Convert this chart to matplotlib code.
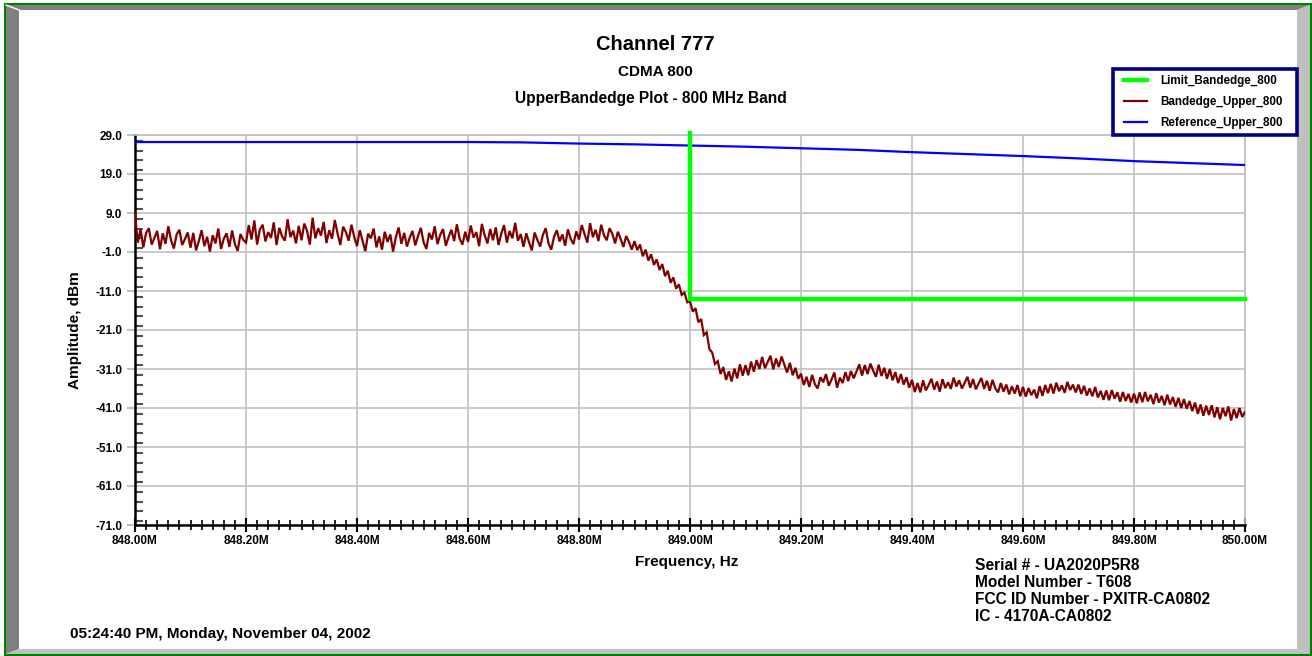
import numpy as np
import matplotlib
matplotlib.use("Agg")
from matplotlib import pyplot as plt
from matplotlib.patches import Polygon, Rectangle
from matplotlib.ticker import FixedLocator, MultipleLocator

FONT = ['Liberation Sans', 'Arial', 'DejaVu Sans']
W, H = 1312, 656

# Sweep 848.00 - 850.00 MHz, one reading every 0.005 MHz
sweep_start, sweep_stop, sweep_points = 848.0, 850.0, 401

# Bandedge_Upper_800 trace, dBm (one row = 0.1 MHz)
bandedge_upper = [
    8.9, 1.4, 4.8, 0.2, 3.9, 5.1, 0.9, 2.6, 4.4, -0.3, 3.8, 1.1, 5.6, 2.0, -0.1, 3.5, 4.7, 0.8, 2.3, 4.0,
    0.1, 3.9, -0.6, 1.8, 4.6, 0.5, 2.9, -0.9, 3.3, 1.2, 5.0, -0.2, 2.4, 3.8, 0.3, 4.5, 1.0, -0.7, 3.6, 2.1,
    1.4, 5.9, 2.2, 7.1, 0.9, 4.8, 6.0, 1.7, 4.1, 2.6, 6.6, 0.8, 5.2, 3.0, 1.9, 7.4, 2.8, 4.5, 1.2, 5.7,
    2.0, 6.3, 4.4, 0.9, 7.8, 2.5, 5.1, 3.2, 6.7, 1.3, 4.6, 2.4, 7.2, 3.7, 0.8, 5.5, 4.1, 1.9, 6.0, 2.9,
    0.5, 4.6, 1.9, -0.8, 3.7, 2.5, 5.0, 0.2, 3.0, -0.4, 4.2, 1.6, 3.5, -0.9, 2.8, 5.3, 1.1, 3.9, 0.4, 2.7,
    4.4, 0.7, 3.1, 5.2, 1.5, -0.2, 3.9, 2.2, 5.6, 1.0, 3.4, 4.9, 0.6, 2.8, 4.7, 1.8, 6.1, 2.4, 0.9, 4.2,
    1.6, 5.8, 2.7, 4.1, 0.5, 6.2, 3.3, 1.2, 4.9, 2.0, 5.3, 0.8, 3.7, 5.9, 1.4, 4.4, 2.5, 6.5, 1.9, 3.6,
    0.3, 3.8, 1.5, -0.6, 4.0, 2.1, 0.4, 3.4, 5.1, 1.2, -0.4, 2.9, 4.6, 1.7, 3.5, 0.6, 4.8, 2.4, 1.0, 4.3,
    2.2, 5.9, 3.6, 1.4, 6.4, 2.8, 4.7, 1.8, 6.0, 3.3, 2.0, 5.1, 3.7, 1.2, 4.2, 2.4, 0.3, 3.1, 1.6, -0.4,
    1.8, -0.5, 0.9, -2.1, -0.4, -3.2, -1.6, -4.3, -2.9, -5.6, -4.1, -7.2, -5.8, -8.9, -7.5, -10.4, -9.3, -12.0, -11.4, -13.9,
    -13.6, -16.3, -15.4, -19.0, -18.2, -22.3, -21.6, -25.9, -26.8, -29.7, -29.0, -32.3, -30.5, -33.8, -31.6, -34.2, -30.9, -33.4, -29.8, -32.7,
    -30.0, -32.6, -29.1, -31.7, -28.7, -31.0, -27.9, -30.8, -29.2, -27.6, -31.1, -28.3, -30.5, -27.8, -29.9, -31.9, -29.4, -32.6, -30.7, -33.5,
    -32.2, -35.1, -33.0, -35.6, -32.5, -34.9, -36.0, -33.1, -34.4, -32.3, -35.3, -33.7, -31.9, -35.8, -33.2, -34.6, -31.8, -34.1, -31.5, -33.4,
    -31.6, -29.8, -32.7, -30.0, -32.3, -29.6, -31.4, -33.0, -29.9, -32.8, -30.7, -33.5, -31.0, -33.9, -31.8, -34.6, -32.3, -35.0, -33.1, -35.8,
    -33.8, -36.9, -34.6, -37.0, -33.9, -36.5, -35.1, -33.5, -36.3, -34.2, -36.8, -33.6, -35.9, -34.4, -36.1, -33.2, -35.5, -33.9, -36.0, -34.5,
    -33.0, -35.8, -33.6, -36.2, -34.7, -33.3, -36.1, -34.0, -36.6, -33.8, -35.9, -37.0, -34.6, -36.8, -35.0, -37.5, -35.4, -37.3, -35.1, -38.0,
    -35.6, -38.1, -35.9, -37.7, -36.3, -38.5, -35.4, -37.9, -35.1, -37.2, -34.8, -37.3, -34.5, -36.7, -35.2, -37.1, -34.3, -36.4, -35.0, -37.0,
    -35.0, -37.4, -35.3, -37.8, -36.0, -38.0, -35.6, -38.3, -36.6, -38.9, -36.5, -39.0, -36.4, -38.6, -37.0, -39.4, -36.9, -39.2, -37.4, -39.6,
    -37.3, -39.8, -37.0, -39.5, -36.9, -39.3, -37.6, -40.0, -37.2, -39.6, -37.9, -40.3, -37.6, -40.1, -38.2, -40.7, -38.4, -41.0, -38.7, -41.2,
    -39.2, -41.8, -39.6, -42.5, -40.1, -43.0, -40.4, -42.8, -40.3, -43.4, -40.8, -43.9, -41.0, -43.1, -40.6, -44.2, -41.3, -43.6, -41.0, -43.3,
    -42.0,
]

# Reference_Upper_800 trace, dBm
ref_freq = [848.0, 848.1, 848.2, 848.3, 848.4, 848.5, 848.6, 848.7, 848.8, 848.9,
            849.0, 849.1, 849.2, 849.3, 849.4, 849.5, 849.6, 849.7, 849.8, 849.9, 850.0]
ref_level = [27.2, 27.2, 27.2, 27.2, 27.2, 27.2, 27.2, 27.1, 26.8, 26.6,
             26.3, 26.0, 25.6, 25.2, 24.6, 24.1, 23.6, 23.0, 22.3, 21.8, 21.3]

# Limit_Bandedge_800
limit_freq = [849.0, 849.0, 850.0]
limit_level = [29.5, -13.0, -13.0]

freq_ticks = [848.0, 848.2, 848.4, 848.6, 848.8, 849.0, 849.2, 849.4, 849.6, 849.8, 850.0]
level_ticks = [29.0, 19.0, 9.0, -1.0, -11.0, -21.0, -31.0, -41.0, -51.0, -61.0, -71.0]

info_lines = ["Serial # - UA2020P5R8", "Model Number - T608",
              "FCC ID Number - PXITR-CA0802", "IC - 4170A-CA0802"]


def px(x, y):
    """ pixel position (from top left) -> figure fraction """
    return (x / W, 1 - y / H)


plt.rcParams['font.family'] = FONT
plt.rcParams['font.weight'] = 'bold'

fig = plt.figure(figsize=(W / 100, H / 100), dpi=100)
fig.patch.set_facecolor('white')

# Panel bevel and green border
bevels = [
    ([(6, 5), (1310, 5), (1297, 10), (19, 10)], '#808080'),
    ([(6, 5), (19, 10), (19, 649), (6, 654)], '#808080'),
    ([(1310, 5), (1310, 654), (1297, 649), (1297, 10)], '#c0c0c0'),
    ([(6, 654), (1310, 654), (1297, 649), (19, 649)], '#c0c0c0'),
]
for pts, color in bevels:
    fig.add_artist(Polygon([px(*p) for p in pts], closed=True,
                           facecolor=color, edgecolor='none',
                           transform=fig.transFigure))
fig.add_artist(plt.Line2D([px(6, 5)[0], px(19, 10)[0]], [px(6, 5)[1], px(19, 10)[1]],
                          color='white', lw=1, transform=fig.transFigure))
fig.add_artist(Polygon([px(5, 4), px(1311, 4), px(1311, 655), px(5, 655)],
                       closed=True, fill=False, edgecolor='#008000', lw=1.5,
                       transform=fig.transFigure))

ax = fig.add_axes([135 / W, 1 - 525 / H, 1110 / W, 390 / H])

freq = np.linspace(sweep_start, sweep_stop, sweep_points)
ax.plot(freq, bandedge_upper, color='#800000', lw=1.6, zorder=3,
        solid_joinstyle='miter', label='Bandedge_Upper_800')
ax.plot(ref_freq, ref_level, color='#0000ff', lw=1.6, zorder=3,
        label='Reference_Upper_800')
ax.plot(limit_freq, limit_level, color='#00ff00', lw=3.2, zorder=4,
        solid_joinstyle='miter', clip_on=False, label='Limit_Bandedge_800')

ax.set_xlim(sweep_start, sweep_stop)
ax.set_ylim(level_ticks[-1], level_ticks[0])

ax.xaxis.set_major_locator(FixedLocator(freq_ticks))
ax.xaxis.set_minor_locator(MultipleLocator(0.02))
ax.set_xticklabels(["{:.2f}M".format(v) for v in freq_ticks])
ax.yaxis.set_major_locator(FixedLocator(level_ticks))
ax.yaxis.set_minor_locator(MultipleLocator(2.5))
ax.set_yticklabels(["{:.1f}".format(v) for v in level_ticks])

ax.tick_params(axis='x', which='major', direction='inout', length=10, width=1.5,
               color='black', pad=2, labelsize=8.5)
ax.tick_params(axis='x', which='minor', direction='inout', length=7, width=1.2,
               color='black')
ax.tick_params(axis='y', which='major', direction='out', length=6, width=1.5,
               color='#c0c0c0', pad=3, labelsize=8.5)
ax.tick_params(axis='y', which='minor', direction='in', length=6, width=1.5,
               color='#505050')

ax.grid(True, which='major', color='#c0c0c0', lw=1.2)
ax.set_axisbelow(True)
for side in ('top', 'right'):
    ax.spines[side].set_color('#c0c0c0')
    ax.spines[side].set_linewidth(1.2)
for side in ('left', 'bottom'):
    ax.spines[side].set_color('black')
    ax.spines[side].set_linewidth(1.8)

ax.set_xlabel('Frequency, Hz', fontsize=11, fontweight='bold')
ax.xaxis.set_label_coords(0.497, -0.095)
ax.xaxis.label.set_va('center')
ax.set_ylabel('Amplitude, dBm', fontsize=11, fontweight='bold')
ax.yaxis.set_label_coords(-0.054, 0.5)
ax.yaxis.label.set_va('center')

# Titles
fig.text(*px(655, 44), 'Channel 777', ha='center', va='center',
         fontsize=14.5, fontweight='bold')
fig.text(*px(655, 72), 'CDMA 800', ha='center', va='center',
         fontsize=11, fontweight='bold')
fig.text(*px(651, 99), 'UpperBandedge Plot - 800 MHz Band', ha='center',
         va='center', fontsize=11.2, fontweight='bold')

# Legend: navy box drawn separately so its padding can match the original
x0, y0 = px(1113, 135)
x1, y1 = px(1297, 69)
fig.add_artist(Rectangle((x0, y0), x1 - x0, y1 - y0, transform=fig.transFigure,
                         facecolor='white', edgecolor='#000080', lw=2.6,
                         zorder=4))
h_band, h_ref, h_lim = ax.get_lines()
leg = fig.legend([h_lim, h_band, h_ref],
                 [h.get_label() for h in (h_lim, h_band, h_ref)],
                 loc='center left', bbox_to_anchor=px(1124, 102),
                 bbox_transform=fig.transFigure, frameon=False,
                 prop={'size': 8.4, 'weight': 'bold'}, handlelength=2.0,
                 handletextpad=1.1, labelspacing=0.8, borderpad=0,
                 borderaxespad=0)
leg.set_zorder(5)

# Device info and timestamp
for i, line in enumerate(info_lines):
    fig.text(*px(975, 566 + i * 16.8), line, ha='left', va='center',
             fontsize=11.2, fontweight='bold')
fig.text(*px(70, 634), '05:24:40 PM, Monday, November 04, 2002', ha='left',
         va='center', fontsize=11, fontweight='bold')

fig.savefig('out.png', dpi=100)
